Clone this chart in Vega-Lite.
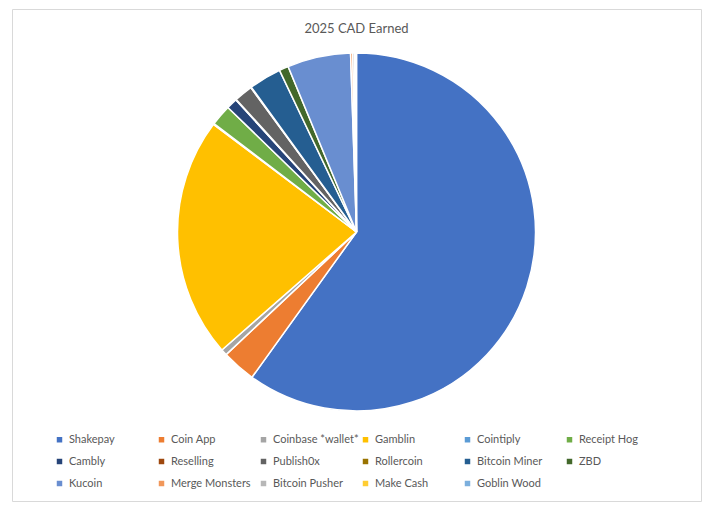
{
  "$schema": "https://vega.github.io/schema/vega-lite/v6.json",
  "autosize": {"type": "none"},
  "width": 689,
  "height": 492,
  "padding": {"left": 12, "top": 9, "right": 16, "bottom": 28},
  "background": "white",
  "view": {"stroke": "#D9D9D9", "strokeWidth": 1, "fill": "white"},
  "config": {
    "font": "Lato"
  },
  "title": {
    "text": "2025 CAD Earned",
    "orient": "top",
    "anchor": "middle",
    "frame": "group",
    "offset": -27,
    "font": "Lato",
    "fontSize": 13,
    "fontWeight": "normal",
    "color": "#595959"
  },
  "data": {
    "values": [
      {"rank": 1, "source": "Shakepay", "cad": 645.6},
      {"rank": 2, "source": "Coin App", "cad": 33.0},
      {"rank": 3, "source": "Coinbase *wallet*", "cad": 6.0},
      {"rank": 4, "source": "Gamblin", "cad": 234.0},
      {"rank": 5, "source": "Cointiply", "cad": 0.9},
      {"rank": 6, "source": "Receipt Hog", "cad": 20.4},
      {"rank": 7, "source": "Cambly", "cad": 10.5},
      {"rank": 8, "source": "Reselling", "cad": 0.6},
      {"rank": 9, "source": "Publish0x", "cad": 18.0},
      {"rank": 10, "source": "Rollercoin", "cad": 0.6},
      {"rank": 11, "source": "Bitcoin Miner", "cad": 31.5},
      {"rank": 12, "source": "ZBD", "cad": 9.0},
      {"rank": 13, "source": "Kucoin", "cad": 61.5},
      {"rank": 14, "source": "Merge Monsters", "cad": 2.1},
      {"rank": 15, "source": "Bitcoin Pusher", "cad": 1.8},
      {"rank": 16, "source": "Make Cash", "cad": 0.9},
      {"rank": 17, "source": "Goblin Wood", "cad": 0.9}
    ]
  },
  "mark": {"type": "arc", "outerRadius": 179, "stroke": "white", "strokeWidth": 1.5, "yOffset": -23},
  "encoding": {
    "theta": {"field": "cad", "type": "quantitative", "stack": true},
    "order": {"field": "rank", "type": "quantitative"},
    "color": {
      "field": "source",
      "type": "nominal",
      "sort": null,
      "scale": {
        "domain": ["Shakepay", "Coin App", "Coinbase *wallet*", "Gamblin", "Cointiply", "Receipt Hog", "Cambly", "Reselling", "Publish0x", "Rollercoin", "Bitcoin Miner", "ZBD", "Kucoin", "Merge Monsters", "Bitcoin Pusher", "Make Cash", "Goblin Wood"],
        "range": ["#4472C4", "#ED7D31", "#A5A5A5", "#FFC000", "#5B9BD5", "#70AD47", "#264478", "#9E480E", "#636363", "#997300", "#255E91", "#43682B", "#698ED0", "#F1975A", "#B7B7B7", "#FFCD33", "#7CAFDD"]
      },
      "legend": {
        "title": null,
        "orient": "none",
        "legendX": 42,
        "legendY": 425,
        "direction": "horizontal",
        "columns": 6,
        "gridAlign": "all",
        "columnPadding": 1,
        "rowPadding": 10,
        "symbolType": "square",
        "symbolSize": 30,
        "symbolStrokeWidth": 0,
        "labelFont": "Lato",
        "labelFontSize": 11,
        "labelColor": "#595959",
        "labelOffset": 4,
        "labelLimit": 200
      }
    }
  }
}
